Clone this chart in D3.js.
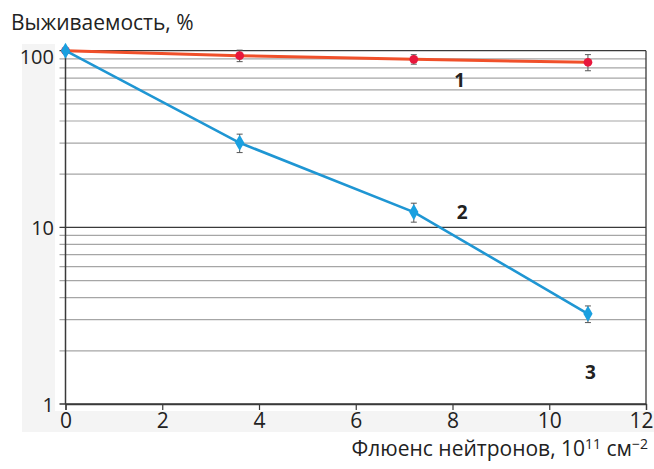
<!DOCTYPE html>
<html>
<head>
<meta charset="utf-8">
<script src="https://cdn.jsdelivr.net/npm/d3@7"></script>
<style>
  html, body { margin: 0; padding: 0; background: #fff; }
  svg { display: block; font-family: "Open Sans", "Noto Sans", sans-serif; }
</style>
</head>
<body>
<svg id="chart" width="654" height="469"></svg>
<script>
// Neutron fluence, 10^11 cm^-2
const fluence = [0, 3.6, 7.2, 10.8];

// Survival, % — curve 1 (red) and curve 2 (blue)
const survival1 = [100, 93.7, 89.4, 86.0];
const error1    = [0, 7, 5.5, 9];
const survival2 = [100, 30.1, 12.2, 3.24];
const error2    = [0, 3.6, 1.5, 0.35];

// Axis ticks
const xTicks = [0, 2, 4, 6, 8, 10, 12];
const yMajor = [1, 10, 100];
const yMinor = [2, 3, 4, 5, 6, 7, 8, 9, 20, 30, 40, 50, 60, 70, 80, 90];

// Curve labels, placed in data coordinates
const curveLabels = ["1", "2", "3"];
const curveLabelX = [8.15, 8.2, 10.85];
const curveLabelY = [68, 12.1, 1.52];

const svg = d3.select("#chart");

const x = d3.scaleLinear().domain([0, 12]).range([65.5, 646]);
const y = d3.scaleLog().domain([1, 100]).range([404, 50.7]);

// chart area and plot area backgrounds
svg.append("rect").attr("x", 22).attr("y", 44).attr("width", 632).attr("height", 388)
  .attr("fill", "#f4f4f4");
svg.append("rect").attr("x", 55).attr("y", 44).attr("width", 599).attr("height", 367)
  .attr("fill", "#ffffff");

// minor gridlines
svg.append("g").selectAll("line").data(yMinor).join("line")
  .attr("x1", x(0) - 6).attr("x2", x(12))
  .attr("y1", d => y(d)).attr("y2", d => y(d))
  .attr("stroke", "#a6a6a6").attr("stroke-width", 1.2);

// major gridlines
svg.append("g").selectAll("line").data(yMajor).join("line")
  .attr("x1", x(0) - 6).attr("x2", x(12))
  .attr("y1", d => y(d)).attr("y2", d => y(d))
  .attr("stroke", "#3a3a3a").attr("stroke-width", 1.3);

// frame: left axis and right border
svg.append("line").attr("x1", x(0)).attr("x2", x(0)).attr("y1", y(100)).attr("y2", y(1))
  .attr("stroke", "#3a3a3a").attr("stroke-width", 1.5);
svg.append("line").attr("x1", x(12)).attr("x2", x(12)).attr("y1", y(100)).attr("y2", y(1))
  .attr("stroke", "#3a3a3a").attr("stroke-width", 1.3);

// x axis
const xAxis = svg.append("g").attr("transform", `translate(0,${y(1)})`)
  .call(d3.axisBottom(x).tickValues(xTicks).tickSize(6).tickPadding(3).tickFormat(d3.format("d")));
xAxis.select(".domain").attr("stroke", "#3a3a3a").attr("stroke-width", 1.3);
xAxis.selectAll(".tick line").attr("stroke", "#3a3a3a").attr("stroke-width", 1.2);
xAxis.selectAll(".tick text").attr("font-size", 21).attr("fill", "#222")
  .attr("font-family", "'Open Sans', sans-serif")
  .attr("dx", d => d === 12 ? -5 : 0);

// y tick labels
svg.append("g").selectAll("text").data(yMajor).join("text")
  .attr("x", 54)
  .attr("y", d => y(d) + (d === 100 ? 6 : 1))
  .attr("dy", "0.35em")
  .attr("text-anchor", "end")
  .attr("font-size", 20).attr("fill", "#222")
  .text(d => d);

// axis titles
svg.append("text").attr("x", 11).attr("y", 29.5)
  .attr("font-size", 21).attr("fill", "#222")
  .text("Выживаемость, %");

const xt = svg.append("text").attr("x", 648).attr("y", 456)
  .attr("text-anchor", "end").attr("font-size", 21).attr("fill", "#222");
xt.append("tspan").text("Флюенс нейтронов, 10");
xt.append("tspan").attr("font-size", 14).attr("dy", -7).text("11");
xt.append("tspan").attr("dy", 7).text(" см");
xt.append("tspan").attr("font-size", 14).attr("dy", -7).text("−2");

// series drawing
function drawSeries(values, errors, lineColor, markerColor, symbolType, symbolSize, lineWidth) {
  const pts = fluence.map((f, i) => ({ f, v: values[i], e: errors[i] }));
  const g = svg.append("g");
  g.append("path").datum(pts)
    .attr("fill", "none").attr("stroke", lineColor).attr("stroke-width", lineWidth)
    .attr("d", d3.line().x(d => x(d.f)).y(d => y(d.v)));
  const eb = g.append("g").selectAll("g").data(pts.filter(d => d.e > 0)).join("g")
    .attr("stroke", "#555").attr("stroke-width", 1);
  eb.append("line").attr("x1", d => x(d.f)).attr("x2", d => x(d.f))
    .attr("y1", d => y(d.v + d.e)).attr("y2", d => y(d.v - d.e));
  eb.append("line").attr("x1", d => x(d.f) - 3).attr("x2", d => x(d.f) + 3)
    .attr("y1", d => y(d.v + d.e)).attr("y2", d => y(d.v + d.e));
  eb.append("line").attr("x1", d => x(d.f) - 3).attr("x2", d => x(d.f) + 3)
    .attr("y1", d => y(d.v - d.e)).attr("y2", d => y(d.v - d.e));
  g.append("g").selectAll("path").data(pts).join("path")
    .attr("transform", d => `translate(${x(d.f)},${y(d.v)})`)
    .attr("d", d3.symbol().type(symbolType).size(symbolSize))
    .attr("fill", markerColor);
}

drawSeries(survival1, error1, "#f0502a", "#e8173c", d3.symbolCircle, 60, 3);
drawSeries(survival2, error2, "#1f96d3", "#1aa0e0", d3.symbolDiamond, 75, 2.6);

// curve numbers
svg.append("g").selectAll("text").data(curveLabels).join("text")
  .attr("x", (d, i) => x(curveLabelX[i]))
  .attr("y", (d, i) => y(curveLabelY[i]))
  .attr("dy", "0.35em")
  .attr("text-anchor", "middle")
  .attr("font-size", 19).attr("font-weight", "bold").attr("fill", "#222")
  .text(d => d);
</script>
</body>
</html>
